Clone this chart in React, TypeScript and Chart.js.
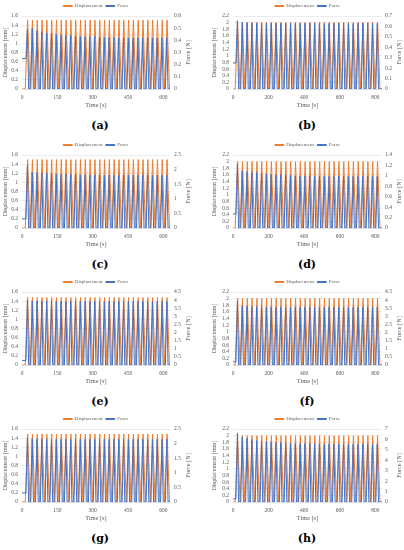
import React, { useEffect, useRef } from "react";
import { Chart, registerables } from "chart.js";

Chart.register(...registerables);

const FONT = "'Liberation Serif', 'Times New Roman', serif";
const LABEL_FONT = "'DejaVu Serif', serif";
const ORANGE = "#ED7D31";
const BLUE = "#4472C4";
const GREY = "#595959";
const GRID = "#D9D9D9";

// ---- tick labels ----
const timeTicksShort = [0, 150, 300, 450, 600];
const timeTicksLong = [0, 200, 400, 600, 800];
const dispTicksShort = [0, 0.2, 0.4, 0.6, 0.8, 1, 1.2, 1.4, 1.6];
const dispTicksLong = [0, 0.2, 0.4, 0.6, 0.8, 1, 1.2, 1.4, 1.6, 1.8, 2, 2.2];
const forceTicksA = [0, 0.1, 0.2, 0.3, 0.4, 0.5, 0.6];
const forceTicksB = [0, 0.1, 0.2, 0.3, 0.4, 0.5, 0.6, 0.7];
const forceTicksC = [0, 0.5, 1, 1.5, 2, 2.5];
const forceTicksD = [0, 0.2, 0.4, 0.6, 0.8, 1, 1.2, 1.4];
const forceTicksE = [0, 0.5, 1, 1.5, 2, 2.5, 3, 3.5, 4, 4.5];
const forceTicksF = [0, 0.5, 1, 1.5, 2, 2.5, 3, 3.5, 4, 4.5];
const forceTicksG = [0, 0.5, 1, 1.5, 2, 2.5];
const forceTicksH = [0, 1, 2, 3, 4, 5, 6, 7];

// ---- cycle timing [s] (start of first cycle, period, axis end) ----
const timingShort = [13.75, 20.4, 628];
const timingLong = [12.45, 27.1, 837];

// ---- per-cycle peak values ----
const dispPeaksA = [1.51, 1.51, 1.51, 1.51, 1.51, 1.51, 1.51, 1.51, 1.51, 1.51, 1.51, 1.51, 1.51, 1.51, 1.51, 1.51, 1.51, 1.51, 1.51, 1.51, 1.51, 1.51, 1.51, 1.51, 1.51, 1.51, 1.51, 1.51, 1.51, 1.51];
const forcePeaksA = [0.49, 0.5, 0.48, 0.47, 0.46, 0.455, 0.45, 0.445, 0.44, 0.44, 0.435, 0.435, 0.43, 0.43, 0.43, 0.425, 0.425, 0.425, 0.425, 0.42, 0.42, 0.42, 0.42, 0.42, 0.42, 0.42, 0.42, 0.42, 0.42, 0.42];
const dispPeaksB = [2.01, 2.01, 2.01, 2.01, 2.01, 2.01, 2.01, 2.01, 2.01, 2.01, 2.01, 2.01, 2.01, 2.01, 2.01, 2.01, 2.01, 2.01, 2.01, 2.01, 2.01, 2.01, 2.01, 2.01, 2.01, 2.01, 2.01, 2.01, 2.01, 2.01];
const forcePeaksB = [0.655, 0.64, 0.636, 0.635, 0.634, 0.633, 0.632, 0.632, 0.631, 0.631, 0.63, 0.63, 0.63, 0.63, 0.63, 0.63, 0.63, 0.63, 0.63, 0.63, 0.63, 0.63, 0.63, 0.63, 0.63, 0.63, 0.63, 0.63, 0.63, 0.63];
const dispPeaksC = [1.5, 1.5, 1.5, 1.5, 1.5, 1.5, 1.5, 1.5, 1.5, 1.5, 1.5, 1.5, 1.5, 1.5, 1.5, 1.5, 1.5, 1.5, 1.5, 1.5, 1.5, 1.5, 1.5, 1.5, 1.5, 1.5, 1.5, 1.5, 1.5, 1.5];
const forcePeaksC = [2.14, 1.92, 1.9, 1.88, 1.87, 1.86, 1.85, 1.84, 1.84, 1.83, 1.83, 1.82, 1.82, 1.82, 1.81, 1.81, 1.81, 1.81, 1.81, 1.81, 1.81, 1.81, 1.81, 1.81, 1.81, 1.81, 1.81, 1.81, 1.81, 1.81];
const dispPeaksD = [2.0, 2.0, 2.0, 2.0, 2.0, 2.0, 2.0, 2.0, 2.0, 2.0, 2.0, 2.0, 2.0, 2.0, 2.0, 2.0, 2.0, 2.0, 2.0, 2.0, 2.0, 2.0, 2.0, 2.0, 2.0, 2.0, 2.0, 2.0, 2.0, 2.0];
const forcePeaksD = [1.23, 1.1, 1.08, 1.07, 1.06, 1.05, 1.04, 1.03, 1.02, 1.02, 1.01, 1.01, 1.0, 1.0, 1.0, 1.0, 0.99, 0.99, 0.99, 0.99, 0.99, 0.99, 0.99, 0.99, 0.99, 0.99, 0.99, 0.99, 0.99, 0.99];
const dispPeaksE = [1.48, 1.48, 1.48, 1.48, 1.48, 1.48, 1.48, 1.48, 1.48, 1.48, 1.48, 1.48, 1.48, 1.48, 1.48, 1.48, 1.48, 1.48, 1.48, 1.48, 1.48, 1.48, 1.48, 1.48, 1.48, 1.48, 1.48, 1.48, 1.48, 1.48];
const forcePeaksE = [4.0, 3.96, 3.95, 3.94, 3.94, 3.93, 3.93, 3.93, 3.92, 3.92, 3.92, 3.92, 3.92, 3.92, 3.92, 3.92, 3.92, 3.92, 3.92, 3.92, 3.92, 3.92, 3.92, 3.92, 3.92, 3.92, 3.92, 3.92, 3.92, 3.92];
const dispPeaksF = [2.01, 2.01, 2.01, 2.01, 2.01, 2.01, 2.01, 2.01, 2.01, 2.01, 2.01, 2.01, 2.01, 2.01, 2.01, 2.01, 2.01, 2.01, 2.01, 2.01, 2.01, 2.01, 2.01, 2.01, 2.01, 2.01, 2.01, 2.01, 2.01, 2.01];
const forcePeaksF = [3.95, 3.65, 3.62, 3.6, 3.6, 3.59, 3.58, 3.58, 3.57, 3.57, 3.57, 3.57, 3.57, 3.57, 3.57, 3.57, 3.57, 3.57, 3.57, 3.57, 3.57, 3.57, 3.57, 3.57, 3.57, 3.57, 3.57, 3.57, 3.57, 3.57];
const dispPeaksG = [1.49, 1.49, 1.49, 1.49, 1.49, 1.49, 1.49, 1.49, 1.49, 1.49, 1.49, 1.49, 1.49, 1.49, 1.49, 1.49, 1.49, 1.49, 1.49, 1.49, 1.49, 1.49, 1.49, 1.49, 1.49, 1.49, 1.49, 1.49, 1.49, 1.49];
const forcePeaksG = [2.2, 2.17, 2.16, 2.16, 2.15, 2.15, 2.15, 2.15, 2.15, 2.15, 2.15, 2.15, 2.15, 2.15, 2.15, 2.15, 2.15, 2.15, 2.15, 2.15, 2.15, 2.15, 2.15, 2.15, 2.15, 2.15, 2.15, 2.15, 2.15, 2.15];
const dispPeaksH = [2.0, 2.0, 2.0, 2.0, 2.0, 2.0, 2.0, 2.0, 2.0, 2.0, 2.0, 2.0, 2.0, 2.0, 2.0, 2.0, 2.0, 2.0, 2.0, 2.0, 2.0, 2.0, 2.0, 2.0, 2.0, 2.0, 2.0, 2.0, 2.0, 2.0];
const forcePeaksH = [6.6, 6.25, 6.1, 6.0, 5.9, 5.85, 5.8, 5.75, 5.7, 5.7, 5.65, 5.65, 5.6, 5.6, 5.6, 5.6, 5.58, 5.58, 5.57, 5.57, 5.56, 5.56, 5.55, 5.55, 5.55, 5.55, 5.55, 5.55, 5.55, 5.55];

// initial (pre-load) force reading at t = 0 [N]
const forceStart = [0.25, 0.25, 0.31, 0.27, 0.28, 0.2, 0.31, 0.3];
const panelLabels = ["(a)", "(b)", "(c)", "(d)", "(e)", "(f)", "(g)", "(h)"];

const dispList = [dispPeaksA, dispPeaksB, dispPeaksC, dispPeaksD, dispPeaksE, dispPeaksF, dispPeaksG, dispPeaksH];
const forceList = [forcePeaksA, forcePeaksB, forcePeaksC, forcePeaksD, forcePeaksE, forcePeaksF, forcePeaksG, forcePeaksH];
const forceTickList = [forceTicksA, forceTicksB, forceTicksC, forceTicksD, forceTicksE, forceTicksF, forceTicksG, forceTicksH];

const rowTops = [0, 139, 276, 413];

function buildSeries(dispPeaks: number[], forcePeaks: number[], f0: number, timing: number[]) {
  const [start, period, xMax] = timing;
  const disp: { x: number; y: number }[] = [{ x: 0, y: 0 }];
  const force: { x: number; y: number }[] = [{ x: 0, y: f0 }];
  dispPeaks.forEach((d, i) => {
    const t0 = start + i * period;
    disp.push({ x: t0, y: 0 }, { x: t0 + period * 0.5, y: d }, { x: t0 + period, y: 0 });
  });
  forcePeaks.forEach((f, i) => {
    const t0 = start + i * period;
    force.push(
      { x: t0 + period * 0.15, y: i === 0 ? f0 : 0 },
      { x: t0 + period * 0.45, y: f },
      { x: t0 + period * 0.7, y: 0 }
    );
  });
  disp.push({ x: xMax, y: 0 });
  force.push({ x: xMax, y: 0 });
  return { disp, force };
}

const fmt = (v: number | string) => String(Number(Number(v).toFixed(2)));

const rightTitlePlugin = {
  id: "rightTitle",
  afterDraw(chart: any, _args: any, opts: any) {
    const { ctx, chartArea } = chart;
    ctx.save();
    ctx.translate(opts.x, (chartArea.top + chartArea.bottom) / 2);
    ctx.rotate(-Math.PI / 2);
    ctx.font = `${opts.size}px ${FONT}`;
    ctx.fillStyle = GREY;
    ctx.textAlign = "center";
    ctx.textBaseline = "middle";
    ctx.fillText(opts.text, 0, 0);
    ctx.restore();
  },
};

const legendHeightPlugin = {
  id: "legendHeight",
  beforeLayout(chart: any, _args: any, opts: any) {
    const lg = chart.legend;
    if (lg && !lg.__patched) {
      const orig = lg.fit;
      lg.fit = function (this: any) {
        orig.call(this);
        this.height = opts.height;
      };
      lg.__patched = true;
    }
  },
};

const W = 202;
const H = 110;

function Panel({ idx }: { idx: number }) {
  const ref = useRef<HTMLCanvasElement>(null);
  const isLeft = idx % 2 === 0;
  const row = Math.floor(idx / 2);

  useEffect(() => {
    const timing = isLeft ? timingShort : timingLong;
    const { disp, force } = buildSeries(dispList[idx], forceList[idx], forceStart[idx], timing);
    const xTicks = isLeft ? timeTicksShort : timeTicksLong;
    const yTicks = isLeft ? dispTicksShort : dispTicksLong;
    const fTicks = forceTickList[idx];
    const leftW = isLeft ? 22 : 31;
    const rightW = isLeft ? 32 : 22;
    const tickFont = { family: FONT, size: 5.5 };
    const titleFont = { family: FONT, size: 6.3 };

    const chart = new Chart(ref.current as HTMLCanvasElement, {
      type: "line",
      data: {
        datasets: [
          {
            label: "Displacement",
            data: disp,
            borderColor: ORANGE,
            backgroundColor: ORANGE,
            borderWidth: 1,
            pointRadius: 0,
            yAxisID: "y",
            order: 1,
          },
          {
            label: "Force",
            data: force,
            borderColor: BLUE,
            backgroundColor: BLUE,
            borderWidth: 1,
            pointRadius: 0,
            yAxisID: "y1",
            order: 0,
          },
        ],
      },
      options: {
        animation: false,
        responsive: false,
        maintainAspectRatio: false,
        layout: { padding: 0 },
        elements: { line: { tension: 0 }, point: { radius: 0 } },
        plugins: {
          legend: {
            position: "top",
            fullSize: false,
            labels: {
              boxWidth: 9,
              boxHeight: 1,
              padding: 3.5,
              color: GREY,
              font: { family: FONT, size: 5 },
              sort: (a: any, b: any) => a.datasetIndex - b.datasetIndex,
            },
          },
          tooltip: { enabled: false },
          rightTitle: { text: "Force [N]", x: isLeft ? 188 : 197, size: 6.3 },
          legendHeight: { height: 16 },
        } as any,
        scales: {
          x: {
            type: "linear",
            min: 0,
            max: timing[2],
            afterBuildTicks: (ax: any) => {
              ax.ticks = xTicks.map((v) => ({ value: v }));
            },
            afterFit: (s: any) => {
              s.height = H - 89;
            },
            grid: { display: false, drawTicks: false },
            border: { display: true, color: GRID, width: 0.75 },
            ticks: { autoSkip: false, maxRotation: 0, padding: 5, color: GREY, font: tickFont, callback: (v: any) => fmt(v) },
            title: { display: true, text: "Time [s]", color: GREY, font: titleFont, padding: { top: 0, bottom: 1 } },
          },
          y: {
            position: "left",
            min: 0,
            max: yTicks[yTicks.length - 1],
            afterBuildTicks: (ax: any) => {
              ax.ticks = yTicks.map((v) => ({ value: v }));
            },
            afterFit: (s: any) => {
              s.width = leftW;
            },
            grid: { color: GRID, lineWidth: 0.5, drawTicks: false },
            border: { display: false },
            ticks: { autoSkip: false, padding: 4, color: GREY, font: tickFont, callback: (v: any) => fmt(v) },
            title: { display: true, text: "Displacement [mm]", color: GREY, font: titleFont, padding: { top: isLeft ? 2 : 9, bottom: 0 } },
          },
          y1: {
            position: "right",
            min: 0,
            max: fTicks[fTicks.length - 1],
            afterBuildTicks: (ax: any) => {
              ax.ticks = fTicks.map((v) => ({ value: v }));
            },
            afterFit: (s: any) => {
              s.width = rightW;
            },
            grid: { display: false, drawTicks: false, drawOnChartArea: false },
            border: { display: false },
            ticks: { autoSkip: false, padding: isLeft ? 4 : 3, color: GREY, font: tickFont, callback: (v: any) => fmt(v) },
          },
        },
      } as any,
      plugins: [rightTitlePlugin, legendHeightPlugin],
    });
    return () => chart.destroy();
  }, []);

  const left = isLeft ? 0 : 202;
  const top = rowTops[row];
  const labelCx = isLeft ? 100 : 105;

  return (
    <div style={{ position: "absolute", left, top, width: W, height: 138 }}>
      <canvas ref={ref} width={W} height={H} style={{ display: "block", width: W, height: H }} />
      <div
        style={{
          position: "absolute",
          left: labelCx - 30,
          top: 118.5,
          width: 60,
          textAlign: "center",
          fontFamily: LABEL_FONT,
          fontWeight: "bold",
          fontSize: 11,
          lineHeight: "13px",
          color: "#000",
        }}
      >
        {panelLabels[idx]}
      </div>
    </div>
  );
}

export default function App() {
  return (
    <div style={{ position: "absolute", left: 0, top: 0, width: 404, height: 550, background: "#fff", overflow: "hidden" }}>
      {[0, 1, 2, 3, 4, 5, 6, 7].map((i) => (
        <Panel key={i} idx={i} />
      ))}
    </div>
  );
}
